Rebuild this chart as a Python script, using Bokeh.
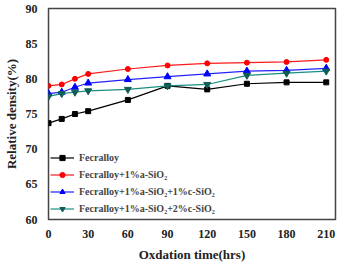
from bokeh.plotting import figure
from bokeh.models import Legend, LegendItem, FixedTicker, Range1d
from bokeh.embed import file_html
from bokeh.resources import INLINE

hours = [0, 10, 20, 30, 60, 90, 120, 150, 180, 210]
fecralloy = [73.7, 74.3, 75.0, 75.4, 77.0, 79.0, 78.5, 79.3, 79.5, 79.5]
a_sio2 = [79.0, 79.2, 80.0, 80.7, 81.4, 81.9, 82.2, 82.3, 82.4, 82.7]
a_c1_sio2 = [77.9, 78.1, 78.8, 79.4, 79.9, 80.3, 80.7, 81.1, 81.2, 81.5]
a_c2_sio2 = [77.5, 77.9, 78.1, 78.3, 78.5, 79.0, 79.2, 80.5, 80.8, 81.1]

labels = ["Fecralloy", "Fecralloy+1%a-SiO\u2082", "Fecralloy+1%a-SiO\u2082+1%c-SiO\u2082",
          "Fecralloy+1%a-SiO\u2082+2%c-SiO\u2082"]
x_ticks = [0, 30, 60, 90, 120, 150, 180, 210]
y_ticks = [60, 65, 70, 75, 80, 85, 90]

FONT = "'Liberation Serif'"

p = figure(width=341, height=264, output_backend="svg", toolbar_location=None,
           x_range=Range1d(0, 217), y_range=Range1d(60, 90),
           min_border_left=40, min_border_right=6, min_border_top=8, min_border_bottom=38)
p.grid.visible = False
p.outline_line_color = "#444444"
p.outline_line_width = 1.5

series = [
    (fecralloy, "black", "black", "square", 5),
    (a_sio2, "#ff1a1a", "#ff0000", "circle", 5),
    (a_c1_sio2, "#2222ff", "#0000ff", "triangle", 7),
    (a_c2_sio2, "#1a8f80", "#0f5e55", "inverted_triangle", 7),
]
items = []
for (vals, lc, mc, mk, sz), lab in zip(series, labels):
    r1 = p.line(hours, vals, line_color=lc, line_width=1.2)
    r2 = p.scatter(hours, vals, marker=mk, size=sz, fill_color=mc, line_color=mc)
    items.append(LegendItem(label=lab, renderers=[r1, r2]))

legend = Legend(items=items, location=(2, 4), border_line_color=None,
                background_fill_alpha=0, label_text_font=FONT,
                label_text_font_style="bold", label_text_font_size="10px",
                glyph_width=24, glyph_height=13, spacing=4, padding=2,
                label_standoff=5, label_height=13)
p.add_layout(legend)

for ax in (p.xaxis[0], p.yaxis[0]):
    ax.major_tick_line_color = None
    ax.minor_tick_line_color = None
    ax.axis_line_color = None
    ax.major_label_text_font = FONT
    ax.major_label_text_font_style = "bold"
    ax.major_label_text_font_size = "12px"
    ax.axis_label_text_font = FONT
    ax.axis_label_text_font_style = "bold"
    ax.axis_label_text_font_size = "13px"
    ax.major_label_text_color = "#222222"
    ax.axis_label_text_color = "#222222"

p.xaxis.ticker = FixedTicker(ticks=x_ticks)
p.yaxis.ticker = FixedTicker(ticks=y_ticks)
p.xaxis.axis_label = "Oxdation time(hrs)"
p.yaxis.axis_label = "Relative density(%)"
p.xaxis.major_label_standoff = 4
p.xaxis.axis_label_standoff = 6
p.yaxis.major_label_standoff = 5
p.yaxis.axis_label_standoff = 4

open("out.html", "w").write(file_html(p, INLINE))
